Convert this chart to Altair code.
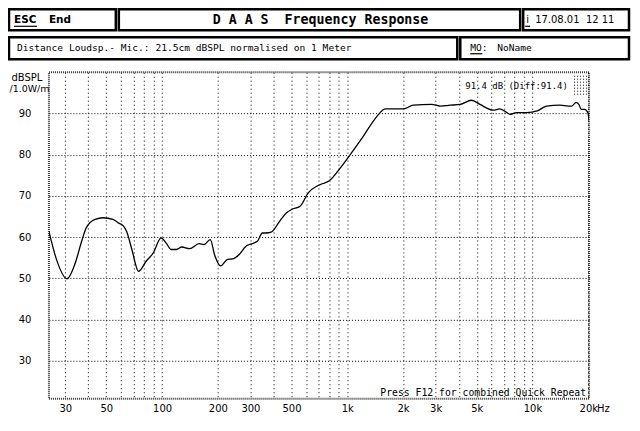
import altair as alt
import pandas as pd

# ---------------- data ----------------
freq_hz = [24.5, 26.9, 30.7, 33.8, 36.8, 39, 43.5, 48, 54.3, 57.8, 61.6, 64.3, 68.7,
           74.6, 82.2, 89.7, 98.8, 105, 112, 119.6, 127.6, 140.8, 158.6, 168.3, 182,
           193, 207, 225.8, 240, 261, 284, 296, 327, 348, 363, 388, 432, 470, 500,
           556, 617, 686, 740, 796, 918, 1037, 1222, 1446, 1606, 2016, 2270, 2860,
           3170, 3590, 4070, 4690, 5200, 6130, 6660, 7620, 8200, 9300, 10600, 11900,
           14100, 15600, 16300, 17200, 17900, 18300, 19100, 19900, 20200]
spl_db = [61.4, 54.6, 49.9, 53.4, 59.0, 62.3, 64.3, 64.7, 64.3, 63.5, 62.8, 61.4, 57.0,
          51.7, 54.2, 56.2, 59.8, 58.6, 57.0, 57.0, 57.6, 57.2, 58.4, 58.2, 59.4,
          55.4, 53.0, 54.6, 54.7, 55.8, 57.8, 58.2, 59.0, 61.0, 61.0, 61.2, 63.9, 65.9, 66.7,
          67.5, 70.8, 72.4, 73.0, 73.6, 76.8, 80.0, 84.5, 89.3, 91.1, 91.1, 92.0, 92.2,
          91.8, 92.0, 92.2, 93.2, 92.2, 90.8, 91.1, 89.8, 90.2, 90.2, 90.6, 91.8,
          92.0, 91.8, 91.8, 92.7, 92.0, 91.0, 91.0, 90.2, 88.3]

grid_x = [30, 40, 50, 60, 70, 80, 90, 100, 200, 300, 400, 500, 600, 700, 800, 900,
          1000, 2000, 3000, 4000, 5000, 6000, 7000, 8000, 9000, 10000, 20000]
label_x = [30, 50, 100, 200, 300, 500, 1000, 2000, 3000, 5000, 10000, 20000]
grid_y = [30, 40, 50, 60, 70, 80, 90]

x_domain = [24.5, 20200]
y_domain = [20.8, 100]

NB = "\u00a0"
title_text = f"D A A S {NB}Frequency Response".replace(" ", NB)
info_text = "Distance Loudsp.- Mic.: 21.5cm dBSPL normalised on 1 Meter"
date_text = f"17.08.01{NB}{NB}12 11"
mo_name = "NoName"
level_text = "91.4 dB (Diff:91.4)"
hint_text = "Press F12 for combined Quick Repeat"
y_title = ["dBSPL", "/1.0W/m"]

# ---------------- layout helpers (decoration only) ----------------
PL, PT = 49, 72          # page position of plot-area origin
W, H = 541, 327


def px(x):
    return x - PL


def py(y):
    return y - PT


MONO = "DejaVu Sans Mono"
SANS = "DejaVu Sans"
one = alt.Data(values=[{"a": 1}])

df = pd.DataFrame({"f": freq_hz, "spl": spl_db})

label_list = ",".join(str(v) for v in label_x)
label_expr = (f"indexof([{label_list}], datum.value) < 0 ? '' : "
              "(datum.value >= 1000 ? (datum.value/1000) + 'k' : '' + datum.value)")

x_enc = alt.X("f:Q", scale=alt.Scale(type="log", domain=x_domain, nice=False),
              axis=alt.Axis(values=grid_x, labelExpr=label_expr, grid=True,
                            gridDash=[1, 3], gridColor="black", gridWidth=1,
                            gridOpacity=1, ticks=False, domain=False, labelPadding=5,
                            labelFont=SANS, labelFontSize=10, labelColor="black",
                            labelOverlap=False, labelFlush=False, title=None))
y_enc = alt.Y("spl:Q", scale=alt.Scale(domain=y_domain, nice=False, zero=False),
              axis=alt.Axis(values=grid_y, grid=True, gridDash=[1, 2],
                            gridColor="black", gridWidth=1, gridOpacity=1,
                            ticks=False, domain=False, labelPadding=18,
                            labelFont=SANS, labelFontSize=10, labelColor="black",
                            title=None))

curve = alt.Chart(df).mark_line(color="black", strokeWidth=1.3,
                                interpolate="monotone", clip=True).encode(x=x_enc, y=y_enc)

layers = [curve]


def box(x1, y1, x2, y2):
    return alt.Chart(one).mark_rect(fill="white", stroke="black", strokeWidth=2.5).encode(
        x=alt.value(px(x1)), x2=alt.value(px(x2)), y=alt.value(py(y1)), y2=alt.value(py(y2)))


def txt(s, x, y, font=MONO, size=10, weight="normal", align="left", baseline="alphabetic"):
    return alt.Chart(one).mark_text(font=font, fontSize=size, fontWeight=weight, align=align,
                                    baseline=baseline, color="black").encode(
        x=alt.value(px(x)), y=alt.value(py(y)), text=alt.value(s))


def uline(x1, x2, y, w=1.2):
    return alt.Chart(one).mark_rule(color="black", strokeWidth=w).encode(
        x=alt.value(px(x1)), x2=alt.value(px(x2)), y=alt.value(py(y)))


layers += [
    box(9, 9, 116, 30), box(119, 9, 521, 30), box(524, 9, 630, 30),
    box(9, 37, 458, 59), box(461, 37, 630, 59),
    txt("ESC", 14, 23, font=SANS, size=10.5, weight="bold"),
    uline(14, 37, 26),
    txt("End", 49, 23, font=SANS, size=10.5, weight="bold"),
    txt(title_text, 321, 24, font=MONO, size=13.3, weight="bold", align="center"),
    txt("i", 527, 23, font=SANS, size=10),
    uline(526, 531, 26),
    txt(date_text, 536, 23, font=SANS, size=10),
    txt(info_text, 17, 51, font=MONO, size=9.6),
    txt("MO:", 471, 51, font=MONO, size=9.6),
    uline(471, 483, 53.5),
    txt(mo_name, 498, 51, font=MONO, size=9.6),
    txt(y_title[0], 27, 81, font=SANS, size=10, align="center"),
    txt(y_title[1], 29.5, 92, font=SANS, size=9.5, align="center"),
    txt(level_text, 466, 89, font=MONO, size=9),
    txt(hint_text, 587, 396, font=MONO, size=9.8, align="right"),
    txt("Hz", 598, 412, font=SANS, size=10),
]

# small dotted patch at top right of the plot
for yy in [76, 79, 82, 85, 88, 91, 94]:
    layers.append(alt.Chart(one).mark_rule(color="black", strokeWidth=1, strokeDash=[1, 2]).encode(
        x=alt.value(px(575)), x2=alt.value(px(589)), y=alt.value(py(yy))))

chart = alt.layer(*layers).properties(
    width=W, height=H,
    autosize=alt.AutoSizeParams(type="none"),
    padding={"left": 41, "top": 64, "right": 43, "bottom": 20},
    background="white",
).configure_view(stroke="#333", strokeWidth=2, strokeDash=[1, 1])

chart.save("out.html", embed_options={"renderer": "svg", "actions": False})
